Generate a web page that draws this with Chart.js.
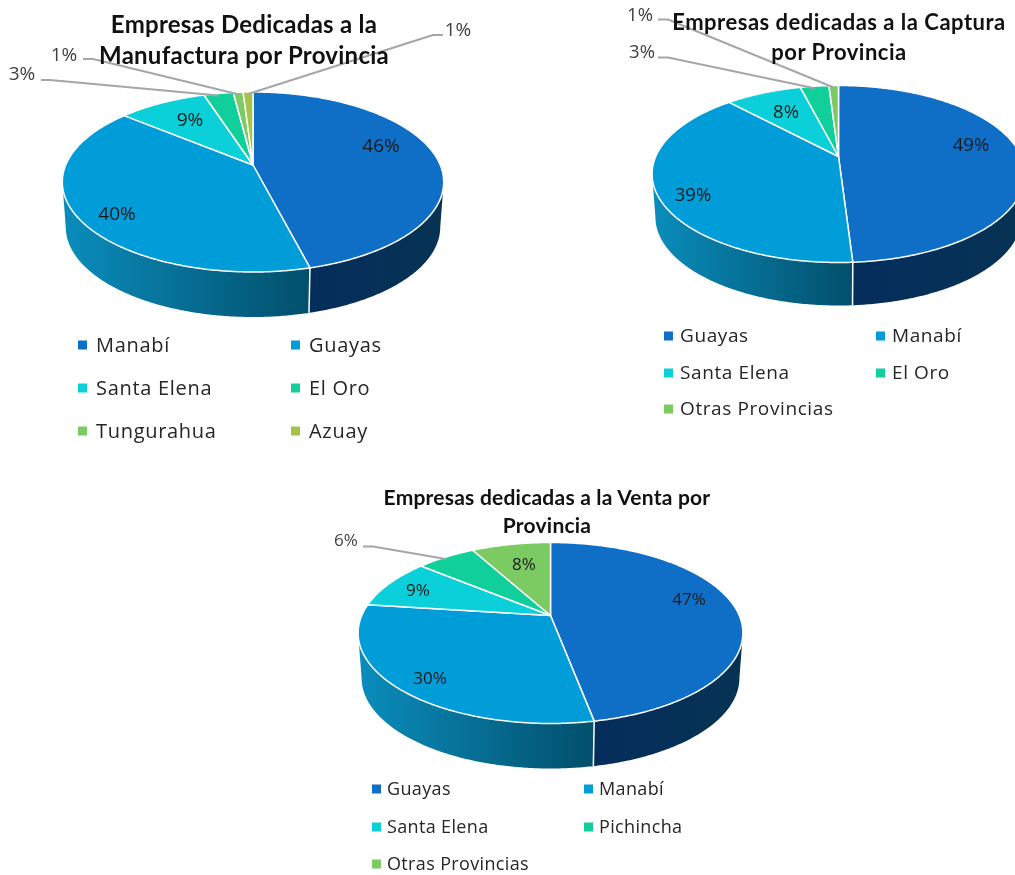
<!DOCTYPE html>
<html lang="es">
<head>
<meta charset="utf-8">
<title>Empresas por Provincia</title>
<script src="https://cdn.jsdelivr.net/npm/chart.js@4"></script>
<style>
  html, body { margin: 0; padding: 0; background: #fff; }
  body { position: relative; width: 1015px; height: 875px; overflow: hidden; }
  canvas { position: absolute; }
  .title {
    position: absolute; transform: translateX(-50%); white-space: nowrap; text-align: center;
    font-family: Lato, sans-serif; font-weight: 700; color: #111;
  }
  .legend-item {
    position: absolute; transform: translateY(-50%); white-space: nowrap;
    font-family: "Open Sans", sans-serif; color: #262626;
  }
  .legend-box { position: absolute; width: 9px; height: 9px; transform: translateY(-50%); }
</style>
</head>
<body>
<script>
const colors = ["#0f6fc6", "#009dd9", "#0bd0d9", "#10cf9b", "#7cca62", "#a5c249"];

const manufacturaLabels = ["Manabí", "Guayas", "Santa Elena", "El Oro", "Tungurahua", "Azuay"];
const manufacturaValues = [46, 40, 9, 3, 1, 1];

const capturaLabels = ["Guayas", "Manabí", "Santa Elena", "El Oro", "Otras Provincias"];
const capturaValues = [49, 39, 8, 3, 1];

const ventaLabels = ["Guayas", "Manabí", "Santa Elena", "Pichincha", "Otras Provincias"];
const ventaValues = [47, 30, 9, 6, 8];

// side of the pie: lit colours per slice, left to right
const wallColors = [
  ["#052d5c", "#063353"],
  ["#0a8dbc", "#024f6b"],
];

const margin = 72;

function rimPoint(arc, t, tilt) {
  const d = 1 + tilt.k * Math.sin(t);
  return [arc.x + (arc.outerRadius * Math.cos(t)) / d, arc.y + (tilt.a * Math.sin(t)) / d];
}

function bottomPoint(arc, t, tilt, depth) {
  const p = rimPoint(arc, t, tilt);
  return [arc.x + (p[0] - arc.x) * 0.982, p[1] + depth];
}

function steps(from, to) {
  const out = [];
  const n = Math.max(2, Math.ceil((to - from) / 0.01));
  for (let i = 0; i <= n; i++) out.push(from + ((to - from) * i) / n);
  return out;
}

function makePie(id, cfg) {
  const k = (cfg.back - cfg.front) / (cfg.back + cfg.front);
  const tilt = { k: k, a: cfg.back * (1 - k) };
  const radius = cfg.rx * Math.sqrt(1 - k * k);
  const side = Math.round(2 * (radius + margin));
  // widest points of the projected rim, the wall's side edges start there
  const widest = Math.asin(-k);

  const canvas = document.createElement("canvas");
  canvas.id = id;
  canvas.width = side;
  canvas.height = side;
  canvas.style.left = cfg.cx - side / 2 + "px";
  canvas.style.top = cfg.cy - side / 2 + "px";
  document.body.appendChild(canvas);
  const offX = cfg.cx - side / 2;
  const offY = cfg.cy - side / 2;

  const perspectivePie = {
    id: "perspectivePie",
    beforeDatasetDraw(chart) {
      const ctx = chart.ctx;
      const arcs = chart.getDatasetMeta(0).data;
      ctx.save();

      // side wall, the front half of the rim
      arcs.forEach((arc, i) => {
        const from = Math.max(arc.startAngle, widest);
        const to = Math.min(arc.endAngle, Math.PI - widest);
        if (to <= from) return;
        const shades = wallColors[Math.min(i, wallColors.length - 1)];
        const ts = steps(from, to);
        const top = ts.map((t) => rimPoint(arc, t, tilt));
        const bottom = ts.map((t) => bottomPoint(arc, t, tilt, cfg.depth));
        const xs = top.map((p) => p[0]);
        const grad = ctx.createLinearGradient(Math.min(...xs), 0, Math.max(...xs), 0);
        grad.addColorStop(0, shades[0]);
        grad.addColorStop(1, shades[1]);
        ctx.beginPath();
        top.forEach((p, j) => (j ? ctx.lineTo(p[0], p[1]) : ctx.moveTo(p[0], p[1])));
        bottom.reverse().forEach((p) => ctx.lineTo(p[0], p[1]));
        ctx.closePath();
        ctx.fillStyle = grad;
        ctx.fill();
      });

      // white joint between the two walls
      arcs.forEach((arc) => {
        if (arc.endAngle > widest && arc.endAngle < Math.PI - widest) {
          const a = rimPoint(arc, arc.endAngle, tilt);
          const b = bottomPoint(arc, arc.endAngle, tilt, cfg.depth);
          ctx.beginPath();
          ctx.moveTo(a[0], a[1]);
          ctx.lineTo(b[0], b[1]);
          ctx.strokeStyle = "#fff";
          ctx.lineWidth = 1.5;
          ctx.stroke();
        }
      });

      // top face
      arcs.forEach((arc) => {
        ctx.beginPath();
        ctx.moveTo(arc.x, arc.y);
        steps(arc.startAngle, arc.endAngle).forEach((t) => {
          const p = rimPoint(arc, t, tilt);
          ctx.lineTo(p[0], p[1]);
        });
        ctx.closePath();
        ctx.fillStyle = arc.options.backgroundColor;
        ctx.fill();
        ctx.strokeStyle = arc.options.borderColor;
        ctx.lineWidth = arc.options.borderWidth;
        ctx.lineJoin = "round";
        ctx.stroke();
      });

      // leader lines and percentages
      const total = cfg.values.reduce((a, b) => a + b, 0);
      ctx.font = cfg.pctFont + ' "Open Sans", sans-serif';
      ctx.textAlign = "center";
      ctx.textBaseline = "middle";
      arcs.forEach((arc, i) => {
        const text = Math.round((cfg.values[i] / total) * 100) + "%";
        const spot = cfg.spots[i];
        if (spot.length > 2) {
          const end = rimPoint(arc, (arc.startAngle + arc.endAngle) / 2, tilt);
          ctx.beginPath();
          ctx.moveTo(spot[2] - offX, spot[3] - offY);
          ctx.lineTo(spot[4] - offX, spot[3] - offY);
          ctx.lineTo(end[0], end[1] + 2);
          ctx.strokeStyle = "#a6a6a6";
          ctx.lineWidth = 2;
          ctx.stroke();
        }
        ctx.fillStyle = spot.length > 2 ? "#404040" : "#1a1a1a";
        ctx.fillText(text, spot[0] - offX, spot[1] - offY);
      });
      ctx.restore();
      return false;
    },
  };

  new Chart(canvas, {
    type: "pie",
    data: {
      labels: cfg.labels,
      datasets: [
        {
          data: cfg.values,
          backgroundColor: colors.slice(0, cfg.values.length),
          borderColor: "#fff",
          borderWidth: 1.5,
        },
      ],
    },
    options: {
      responsive: false,
      animation: false,
      layout: { padding: margin },
      plugins: { legend: { display: false }, tooltip: { enabled: false }, title: { display: false } },
    },
    plugins: [perspectivePie],
  });

  // title
  const title = document.createElement("div");
  title.className = "title";
  title.innerHTML = cfg.title.join("<br>");
  title.style.left = cfg.titleX + "px";
  title.style.top = cfg.titleY + "px";
  title.style.fontSize = cfg.titleSize + "px";
  title.style.lineHeight = cfg.titleLine + "px";
  title.style.letterSpacing = cfg.titleSpacing + "px";
  document.body.appendChild(title);

  // legend, two columns
  cfg.labels.forEach((label, i) => {
    const x = i % 2 ? cfg.legendX2 : cfg.legendX1;
    const y = cfg.legendY[Math.floor(i / 2)];
    const box = document.createElement("div");
    box.className = "legend-box";
    box.style.left = x + "px";
    box.style.top = y + "px";
    box.style.background = colors[i];
    document.body.appendChild(box);
    const item = document.createElement("div");
    item.className = "legend-item";
    item.textContent = label;
    item.style.left = x + cfg.legendGap + "px";
    item.style.top = y - 1 + "px";
    item.style.fontSize = cfg.legendSize + "px";
    item.style.letterSpacing = cfg.legendSpacing + "px";
    document.body.appendChild(item);
  });
}

makePie("manufactura", {
  labels: manufacturaLabels,
  values: manufacturaValues,
  cx: 253, cy: 165, rx: 191.5, back: 73, front: 107, depth: 45,
  title: ["Empresas Dedicadas a la", "Manufactura por Provincia"],
  titleX: 244, titleY: 8, titleSize: 24, titleLine: 31, titleSpacing: 0.25,
  pctFont: "19px",
  spots: [[381, 147], [117, 215], [190, 121], [22, 75, 41, 80, 50], [64, 56, 83, 59, 93], [458, 31, 443, 35, 433]],
  legendX1: 78, legendX2: 291, legendY: [345, 388, 431], legendGap: 18,
  legendSize: 20, legendSpacing: 0.7,
});

makePie("captura", {
  labels: capturaLabels,
  values: capturaValues,
  cx: 838.5, cy: 156, rx: 187, back: 71, front: 106, depth: 43,
  title: ["Empresas dedicadas a la Captura", "por Provincia"],
  titleX: 839, titleY: 7, titleSize: 22, titleLine: 30, titleSpacing: 0.5,
  pctFont: "18.5px",
  spots: [[971, 145], [693, 195], [786, 112], [642, 52, 658, 57, 668], [640, 15, 658, 19, 668]],
  legendX1: 664, legendX2: 876, legendY: [336, 373, 409], legendGap: 16,
  legendSize: 19, legendSpacing: 0.6,
});

makePie("venta", {
  labels: ventaLabels,
  values: ventaValues,
  cx: 550.5, cy: 615, rx: 193, back: 73, front: 108, depth: 45,
  title: ["Empresas dedicadas a la Venta por", "Provincia"],
  titleX: 547, titleY: 483, titleSize: 21, titleLine: 28, titleSpacing: 0.22,
  pctFont: "17px",
  spots: [[689, 600], [430, 679], [418, 591], [346, 541, 363, 546, 373], [524, 565]],
  legendX1: 372, legendX2: 584, legendY: [789, 827, 864], legendGap: 15,
  legendSize: 18, legendSpacing: 0.35,
});
</script>
</body>
</html>
